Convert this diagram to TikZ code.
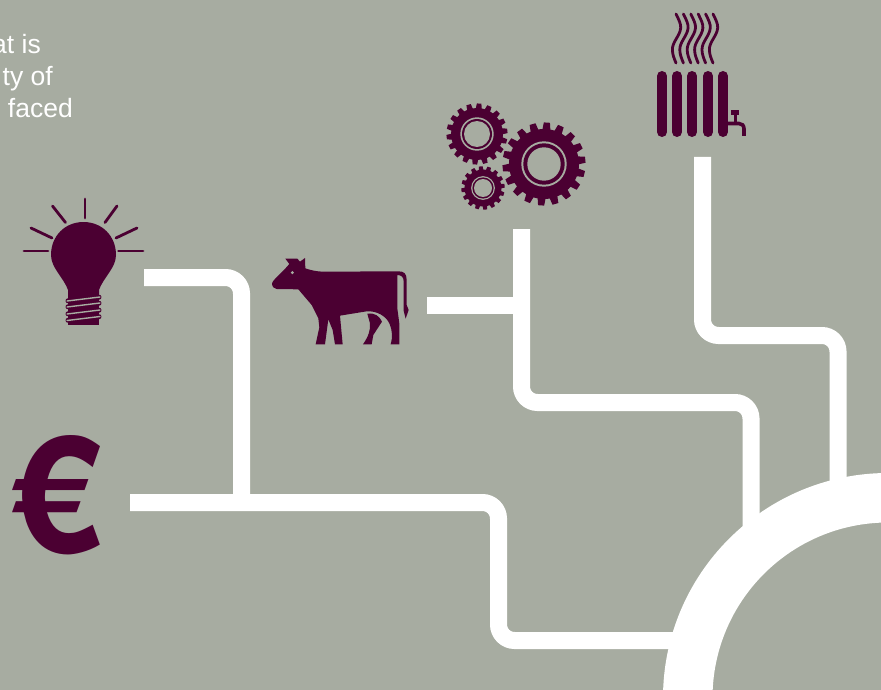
\documentclass[tikz,border=0pt]{standalone}
\usepackage{fontspec}
\setmainfont{Liberation Sans}
\newfontfamily\herosbold[BoldFont={* Bold}]{TeX Gyre Heros}
\definecolor{bgc}{RGB}{167,172,161}
\definecolor{plum}{RGB}{75,0,50}
\tikzset{
  pipe/.style={draw=white,line width=17pt,rounded corners=16pt,line cap=butt},
  ray/.style={draw=plum,line width=2.8pt,line cap=round},
  bar/.style={draw=plum,line width=10pt,line cap=round},
  steam/.style={draw=plum,line width=2.8pt,line cap=round},
  caption/.style={text=white,anchor=base east,font=\fontsize{26.5pt}{30pt}\selectfont,inner sep=0pt},
  eurosign/.style={text=plum,anchor=base west,inner sep=0pt,font=\herosbold\fontsize{163pt}{170pt}\selectfont\bfseries}
}
\newcommand{\gearicon}[8]{% cx cy tip root teeth ringout ringin hole
  \begin{scope}[shift={(#1,#2)}]
    \fill[plum] (0,0) circle (#4);
    \pgfmathsetmacro{\stepang}{360/#5}
    \pgfmathsetmacro{\pitch}{\stepang/57.3*#4}
    \foreach \i in {1,...,#5}{
      \pgfmathsetmacro{\ang}{\i*\stepang+6}
      \fill[plum,rotate=\ang] (#4-1,-0.33*\pitch) -- (#3,-0.25*\pitch) -- (#3,0.25*\pitch) -- (#4-1,0.33*\pitch) -- cycle;
    }
    \fill[bgc] (0,0) circle (#6);
    \fill[plum] (0,0) circle (#7);
    \fill[bgc] (0,0) circle (#8);
  \end{scope}}
\begin{document}
\begin{tikzpicture}[x=1pt,y=-1pt]
\useasboundingbox (0,0) rectangle (881,690);
\clip (0,0) rectangle (881,690);
\fill[bgc] (0,0) rectangle (881,690);
% caption fragments
\node[caption] (t1) at (41,54) {at is};
\node[caption] (t2) at (53,86) {ty of};
\node[caption] (t3) at (73,118) {faced};
% pipe ends
\coordinate (bulbend) at (144,277.5);
\coordinate (eurend) at (130,502.5);
\coordinate (cowend) at (427,305.5);
\coordinate (gearend) at (521.5,229);
\coordinate (radend) at (702.5,157);
\coordinate (hubw) at (690,640.5);
\coordinate (hubg) at (751,530);
\coordinate (hubr) at (838,490);
\coordinate (join1) at (241.5,502.5);
\coordinate (join2) at (521.5,305.5);
\draw[pipe] (bulbend) -- (241.5,277.5) -- (join1);
\draw[pipe] (eurend) -- (498.5,502.5) -- (498.5,640.5) -- (hubw);
\draw[pipe] (cowend) -- (join2);
\draw[pipe] (gearend) -- (521.5,402.5) -- (751,402.5) -- (hubg);
\draw[pipe] (radend) -- (702.5,335.5) -- (838,335.5) -- (hubr);
% hub ring
\fill[white,even odd rule] (888,698) circle (225) (888,698) circle (175.5);
% bulb
\fill[plum] (68,296) -- (68,290) .. controls (64,278) and (51,268) .. (51,255) .. controls (51,236) and (65,222) .. (83.5,222) .. controls (102,222) and (116,236) .. (116,255) .. controls (116,268) and (103,278) .. (99,290) -- (99,296) -- cycle;
\fill[plum] (68,296) rectangle (99,325);
\foreach \y in {299,305,312,318.5}{
  \draw[plum,line width=5pt,line cap=round] (68,\y+1.8) -- (99,\y-1.8);
}
\foreach \y in {299,305,312,318.5}{
  \draw[bgc,line width=1.4pt,line cap=round] (67,\y+2) -- (100,\y-2);
}
\draw[ray] (85,199) -- (85,218);
\draw[ray] (52.5,206) -- (65.5,222.5);
\draw[ray] (117,206) -- (105,222.5);
\draw[ray] (31,228) -- (52,238);
\draw[ray] (137,228) -- (116,238);
\draw[ray] (24,251) -- (48,251);
\draw[ray] (118.5,251) -- (143,251);
% cow
\begin{scope}[shift={(260,240)},x=0.3333pt,y=-0.3333pt]
\fill[plum] (36,130) .. controls (36,122) and (60,105) .. (88,72) -- (76,56) -- (112,56) -- (120,65) -- (135,54) -- (136,85) .. controls (150,90) and (170,95) .. (190,95) -- (415,94) .. controls (432,94) and (440,100) .. (440,120) -- (440,195) -- (446,210) -- (437,236) -- (431,212) -- (431,125) .. controls (431,112) and (425,105) .. (412,105) -- (412,205) -- (418,250) -- (418,313) -- (392,313) .. controls (398,290) and (398,275) .. (388,250) .. controls (378,228) and (350,212) .. (320,214) -- (240,227) -- (248,313) -- (225,313) -- (218,270) -- (205,238) -- (195,313) -- (167,313) -- (178,262) -- (175,235) -- (155,195) -- (115,148) -- (50,147) .. controls (42,146) and (36,140) .. (36,130) -- cycle;
\fill[plum] (322,221) .. controls (345,218) and (358,228) .. (366,245) -- (340,285) -- (335,313) -- (309,313) .. controls (325,290) and (332,270) .. (330,250) -- cycle;
\fill[bgc] (97,98) circle (5);
\end{scope}
% gears
\gearicon{477}{134}{30.5}{26}{18}{16.7}{15}{13}
\gearicon{483}{188}{21.7}{18.5}{16}{11.9}{10.6}{9}
\gearicon{544}{164}{41.5}{35}{18}{22.7}{20.7}{16.7}
% radiator
\foreach \x in {662,677,692,708,723}{
  \draw[bar] (\x,76) -- (\x,132);
}
\fill[plum] (731,110) rectangle (739,115);
\draw[plum,line width=3pt] (735,114) -- (735,123);
\draw[plum,line width=3.6pt] (727,123.5) -- (739,123.5) .. controls (742,123.5) and (744,125.5) .. (744,129) -- (744,136);
\foreach \x in {676,683.4,690.8,698.2,705.6,713}{
  \draw[steam] (\x,14) .. controls (\x+3,20) and (\x+5,24) .. (\x+4.7,28) .. controls (\x+4,36) and (\x-4,42) .. (\x-3.6,50) .. controls (\x-3.4,55) and (\x-2,58) .. (\x,63);
}
% euro
\node[eurosign] (eur) at (11,553) {€};
\end{tikzpicture}
\end{document}
